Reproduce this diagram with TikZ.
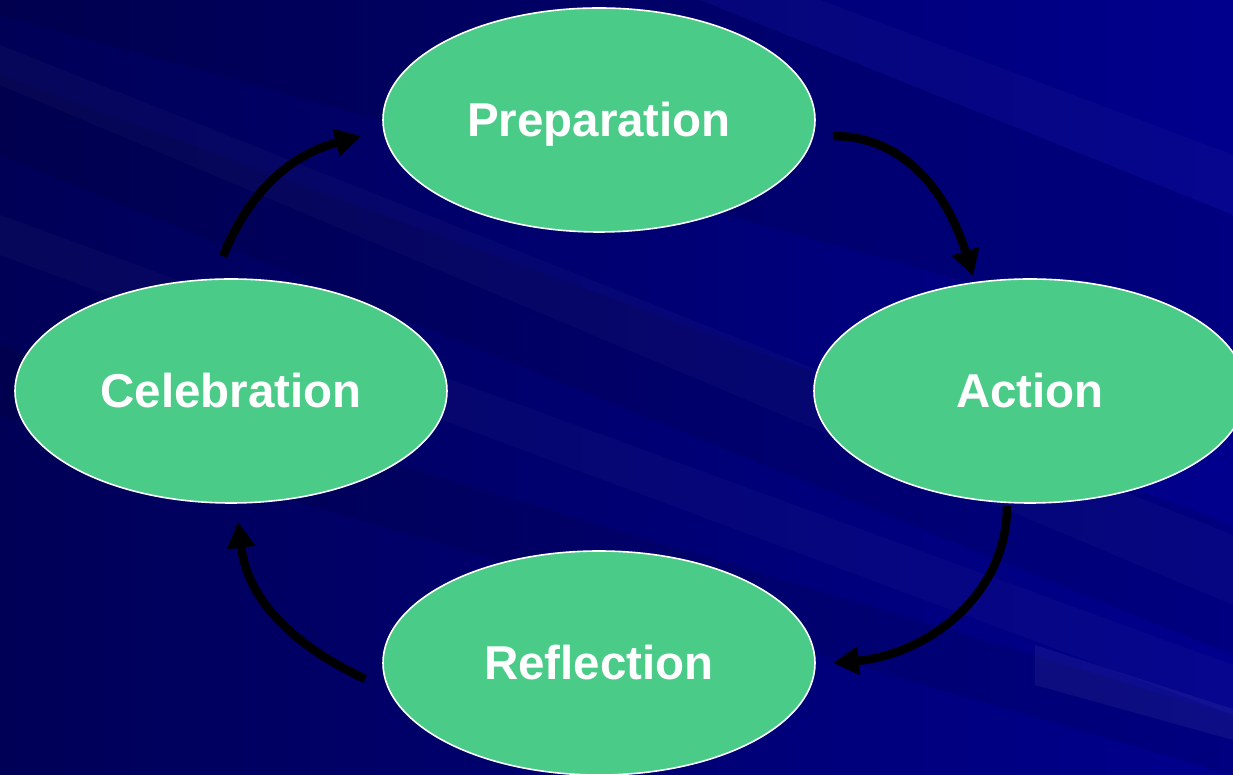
\documentclass[tikz,border=0pt]{standalone}
\usepackage{fontspec}
\setmainfont{Liberation Sans}
\usetikzlibrary{arrows.meta,shapes.geometric}
\definecolor{bgdark}{RGB}{0,0,78}
\definecolor{bgmid}{RGB}{0,0,128}
\definecolor{bglight}{RGB}{0,0,150}
\definecolor{nodegreen}{RGB}{74,203,136}
\tikzset{
  phase/.style={ellipse, draw=white, line width=1.6pt, fill=nodegreen,
    minimum width=432pt, minimum height=224pt, inner sep=0pt,
    text height=34pt, text depth=0pt,
    text=white, font=\bfseries\fontsize{47.5}{56}\selectfont},
  cyclearrow/.style={line width=8.5pt, black, -{Triangle[length=26pt,width=27pt]}},
  band/.style={fill=white, opacity=0.022},
  darkband/.style={fill=black, opacity=0.09}
}
\begin{document}
\begin{tikzpicture}[x=1pt,y=1pt]
\useasboundingbox (0,0) rectangle (1233,775);
\begin{scope}
\clip (0,0) rectangle (1233,775);
\shade[shading angle=-60, left color=bgdark, right color=bglight] (-200,-200) rectangle (1433,975);
% diagonal bands
\fill[darkband] (0,775) -- (700,775) -- (1233,560) -- (1233,420) -- (0,760) -- cycle;
\fill[darkband] (0,700) -- (0,620) -- (1233,120) -- (1233,250) -- cycle;
\fill[band] (0,730) -- (0,690) -- (1233,170) -- (1233,240) -- cycle;
\fill[band] (0,560) -- (0,520) -- (1233,60) -- (1233,110) -- cycle;
\fill[darkband] (0,430) -- (0,360) -- (1233,0) -- (1233,60) -- cycle;
\fill[band] (700,775) -- (820,775) -- (1233,620) -- (1233,560) -- cycle;
\fill[fill=white, opacity=0.05] (1035,130) -- (1233,66) -- (1233,35) -- (1035,90) -- cycle;
\end{scope}

\node[phase] (prep) at (599,655) {Preparation};
\node[phase] (act) at (1030,384) {Action};
\node[phase] (refl) at (599,112) {Reflection};
\node[phase] (cel) at (231,384) {Celebration};

\draw[cyclearrow] ([shift={(-8,22)}]cel.north) to[out=68,in=195] ([shift={(-21,-16)}]prep.west);
\draw[cyclearrow] ([shift={(17,-16)}]prep.east) to[out=0,in=107] ([shift={(-57,2)}]act.north);
\draw[cyclearrow] ([shift={(-23,-2)}]act.south) to[out=-90,in=5] ([shift={(17,0)}]refl.east);
\draw[cyclearrow] ([shift={(-17,-16)}]refl.west) to[out=155,in=-83] ([shift={(7,-18)}]cel.south);
\end{tikzpicture}
\end{document}
